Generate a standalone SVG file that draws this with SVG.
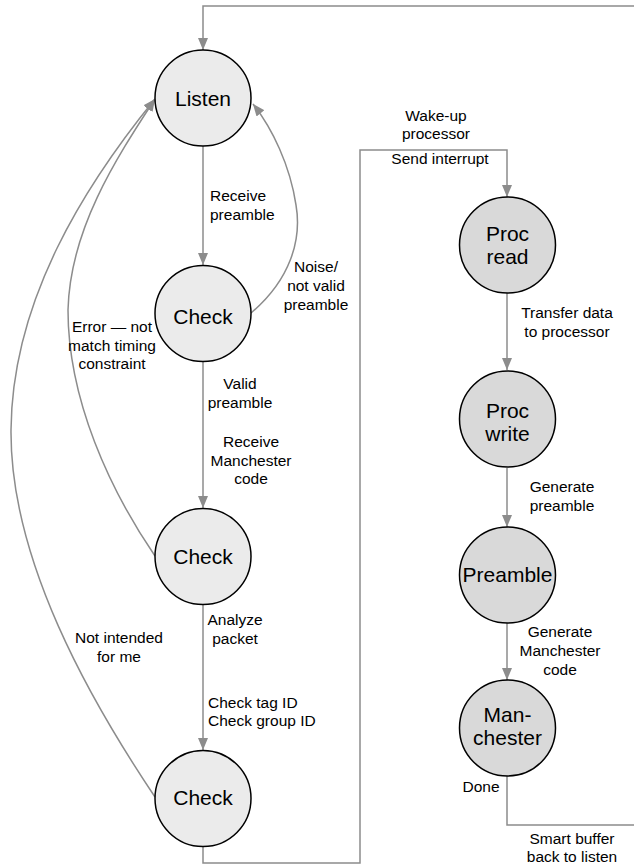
<svg xmlns="http://www.w3.org/2000/svg" width="634" height="865" viewBox="0 0 634 865">
<defs>
<marker id="arr" viewBox="0 0 12 10" refX="12" refY="5" markerWidth="12" markerHeight="10" markerUnits="userSpaceOnUse" orient="auto">
<path d="M0,0 L12,5 L0,10 Z" fill="#8c8c8c"/>
</marker>
<style>
.n1{fill:#ebebeb;stroke:#000;stroke-width:1.5}
.n2{fill:#d9d9d9;stroke:#000;stroke-width:1.5}
.nt{font-family:"Liberation Sans",Arial,sans-serif;font-size:21px;fill:#000;text-anchor:middle}
.e{fill:none;stroke:#8c8c8c;stroke-width:1.5}
.a{marker-end:url(#arr)}
.lb{font-family:"Liberation Sans",Arial,sans-serif;font-size:15.5px;fill:#000;text-anchor:middle}
.ls{font-family:"Liberation Sans",Arial,sans-serif;font-size:15.5px;fill:#000;text-anchor:start}
</style>
</defs>
<g id="connectors">
<path class="e a" d="M203,146 V265"/>
<path class="e a" d="M251,313 C290,280 302,240 296,205 C290,165 272,128 253,104"/>
<path class="e a" d="M203,362 V508"/>
<path class="e a" d="M155,556 C110,490 68,400 68,310 C70,230 115,160 155,99"/>
<path class="e a" d="M203,605 V750"/>
<path class="e a" d="M155,797 C90,700 10,560 11,430 C12,300 85,185 155,99"/>
<path class="e a" d="M203,847 V863 H360 V150 H507 V197"/>
<path class="e a" d="M507,293 V370"/>
<path class="e a" d="M507,468 V527"/>
<path class="e a" d="M507,623 V680"/>
<path class="e a" d="M507,776 V825 H640 V6 H203 V50"/>
</g>
<g id="labels">
<text class="ls" x="210" y="201">Receive</text>
<text class="ls" x="210" y="220">preamble</text>
<text class="lb" x="316" y="272">Noise/</text>
<text class="lb" x="316" y="291">not valid</text>
<text class="lb" x="316" y="310">preamble</text>
<text class="lb" x="112" y="332">Error — not</text>
<text class="lb" x="112" y="351">match timing</text>
<text class="lb" x="112" y="369">constraint</text>
<text class="lb" x="240" y="389">Valid</text>
<text class="lb" x="240" y="408">preamble</text>
<text class="lb" x="251" y="447">Receive</text>
<text class="lb" x="251" y="466">Manchester</text>
<text class="lb" x="251" y="484">code</text>
<text class="lb" x="235" y="625">Analyze</text>
<text class="lb" x="235" y="644">packet</text>
<text class="lb" x="119" y="643">Not intended</text>
<text class="lb" x="119" y="662">for me</text>
<text class="ls" x="208" y="708">Check tag ID</text>
<text class="ls" x="208" y="726">Check group ID</text>
<text class="lb" x="436" y="121">Wake-up</text>
<text class="lb" x="436" y="139">processor</text>
<text class="lb" x="440" y="164">Send interrupt</text>
<text class="lb" x="567" y="318">Transfer data</text>
<text class="lb" x="567" y="337">to processor</text>
<text class="lb" x="562" y="492">Generate</text>
<text class="lb" x="562" y="511">preamble</text>
<text class="lb" x="560" y="637">Generate</text>
<text class="lb" x="560" y="656">Manchester</text>
<text class="lb" x="560" y="675">code</text>
<text class="lb" x="481" y="792">Done</text>
<text class="lb" x="572" y="844">Smart buffer</text>
<text class="lb" x="572" y="862">back to listen</text>
</g>
<g id="listen"><circle class="n1" cx="203" cy="98" r="48"/><text class="nt" x="203" y="106">Listen</text></g>
<g id="check1"><circle class="n1" cx="203" cy="313.5" r="48"/><text class="nt" x="203" y="324">Check</text></g>
<g id="check2"><circle class="n1" cx="203" cy="556.5" r="48"/><text class="nt" x="203" y="564">Check</text></g>
<g id="check3"><circle class="n1" cx="203" cy="798.5" r="48"/><text class="nt" x="203" y="805">Check</text></g>
<g id="procread"><circle class="n2" cx="507.5" cy="245" r="48"/><text class="nt" x="507.5" y="241">Proc</text><text class="nt" x="507.5" y="264">read</text></g>
<g id="procwrite"><circle class="n2" cx="507.5" cy="419" r="48"/><text class="nt" x="507.5" y="418">Proc</text><text class="nt" x="507.5" y="441">write</text></g>
<g id="preamble"><circle class="n2" cx="507.5" cy="575" r="48"/><text class="nt" x="507.5" y="582">Preamble</text></g>
<g id="manchester"><circle class="n2" cx="507.5" cy="728" r="48"/><text class="nt" x="507.5" y="722">Man-</text><text class="nt" x="507.5" y="745">chester</text></g>
</svg>
